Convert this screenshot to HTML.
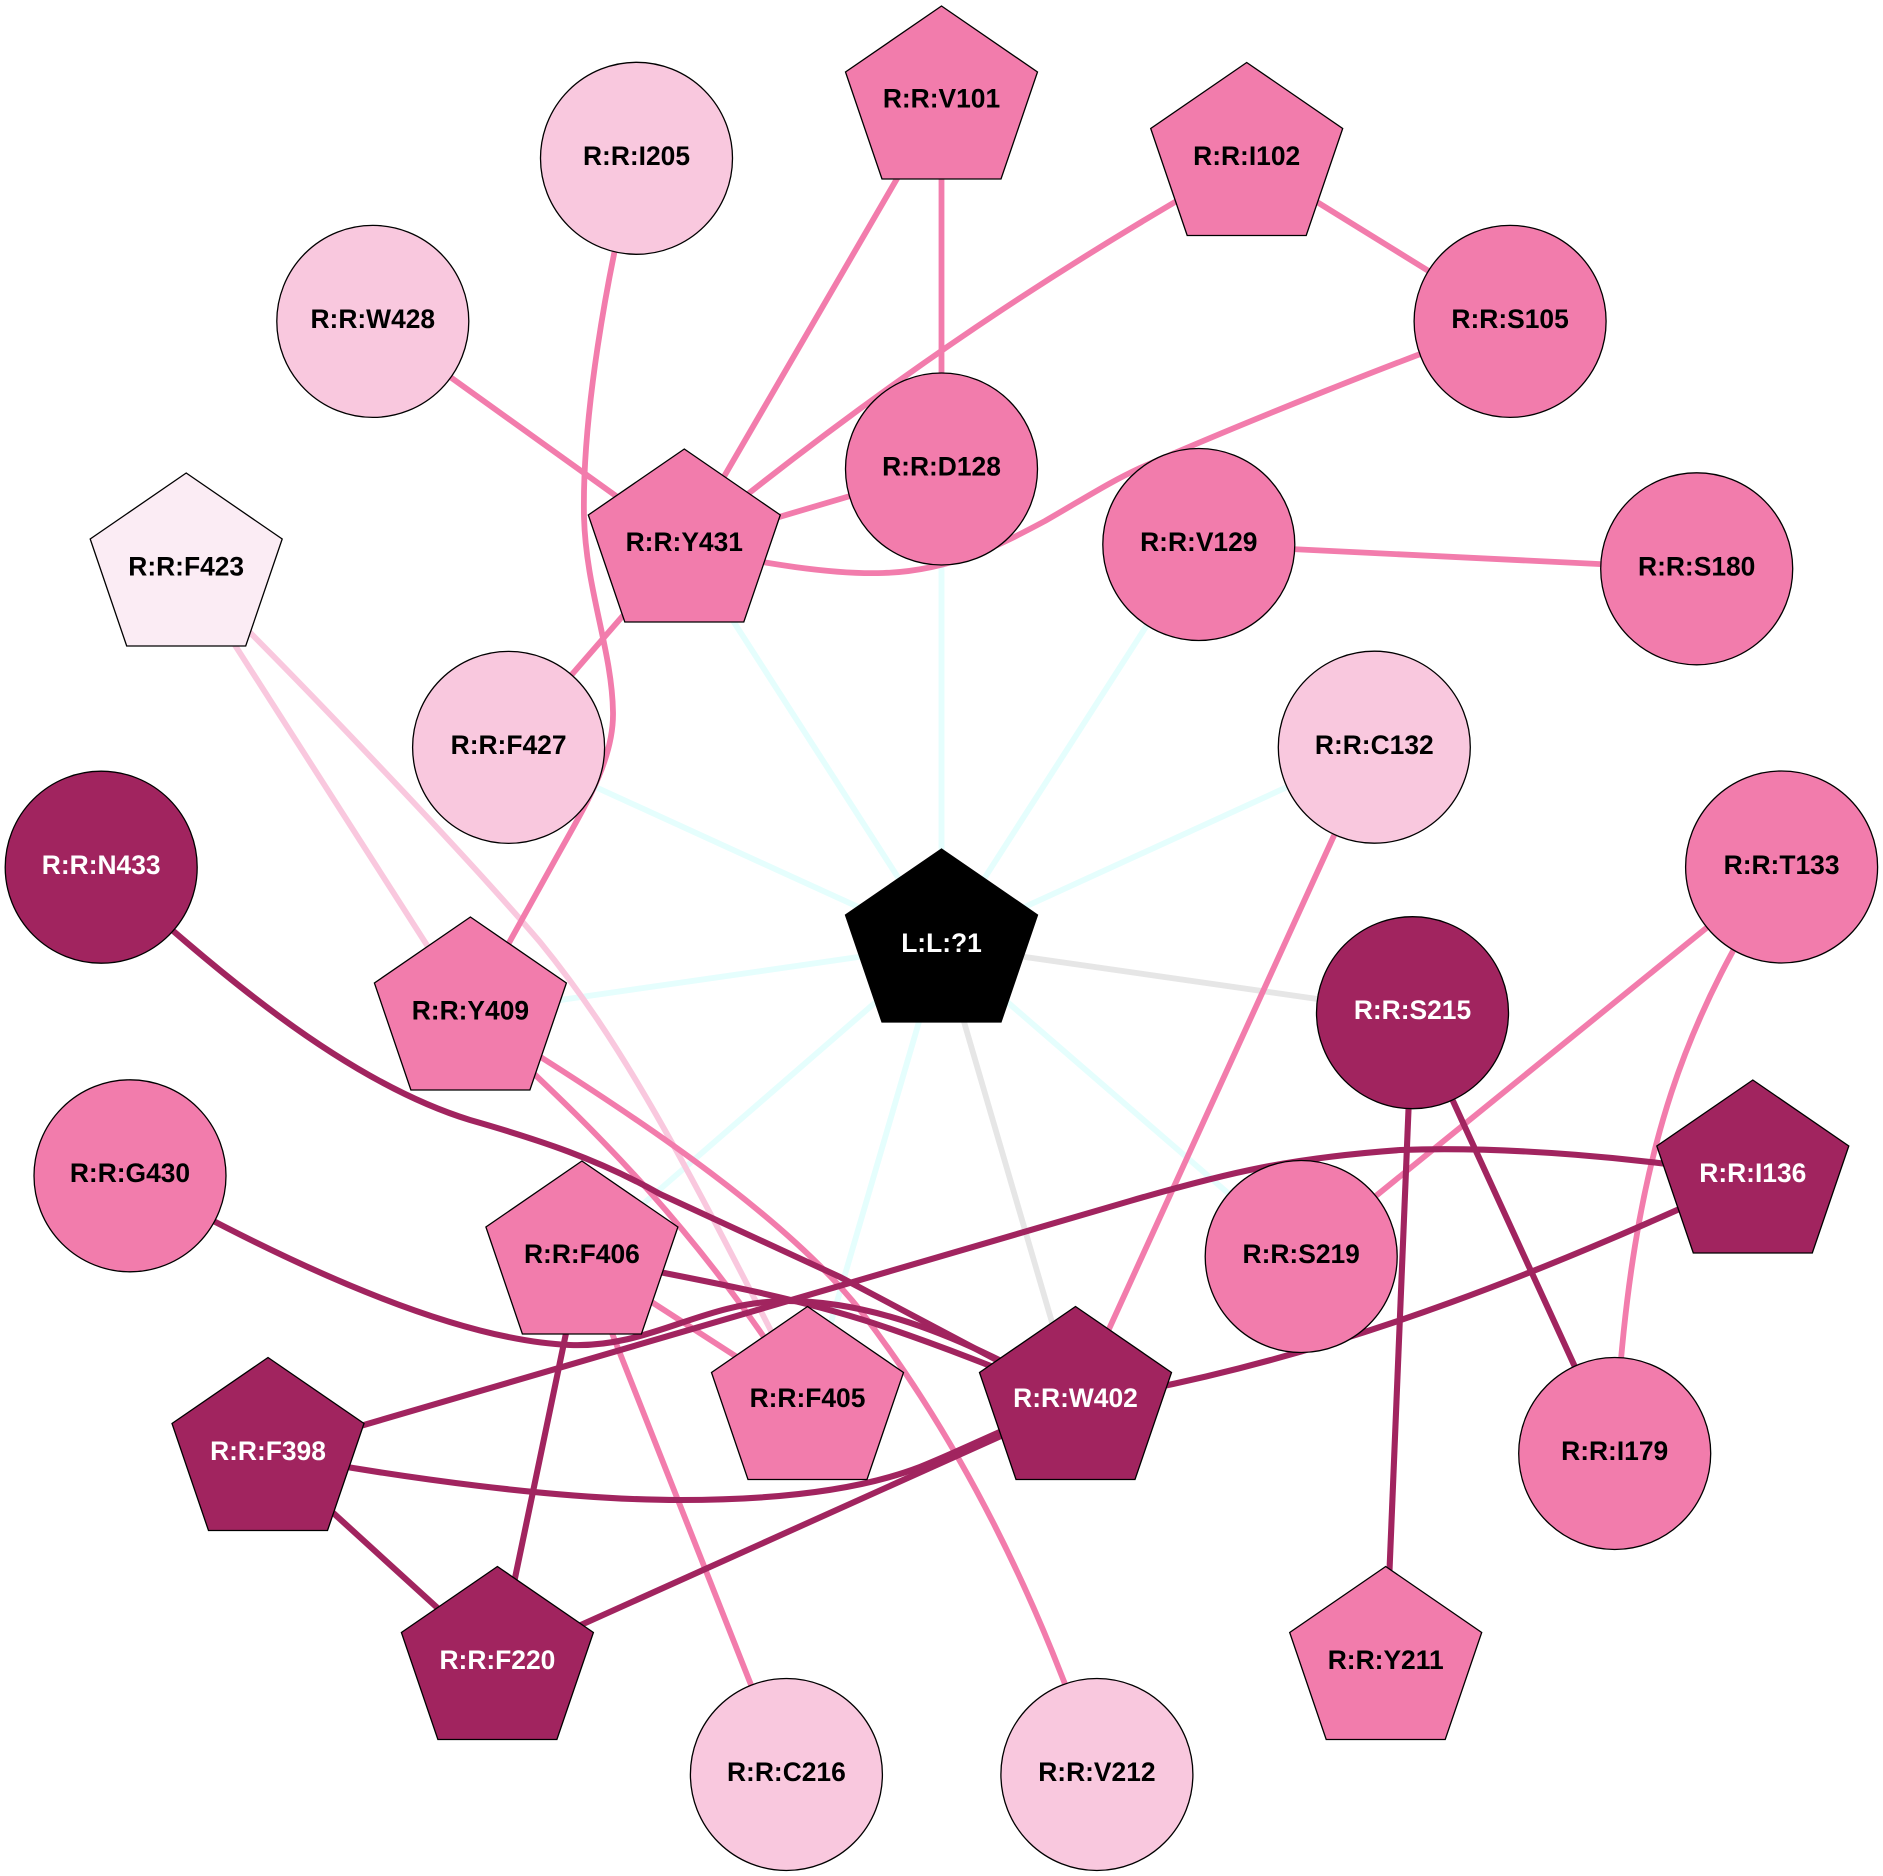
<!DOCTYPE html>
<html><head><meta charset="utf-8"><style>
html,body{margin:0;padding:0;background:#fff}
svg{display:block}
text{font-family:"Liberation Sans",sans-serif;font-weight:bold;font-size:26.4px;text-anchor:middle;fill:#000}
text.w{fill:#fff}
.e path,.e line{fill:none}
.n *{stroke:#000;stroke-width:1.3}
.n text{stroke:none}
</style></head><body>
<svg xmlns="http://www.w3.org/2000/svg" width="1883" height="1876" viewBox="0 0 1883 1876">
<rect width="1883" height="1876" fill="#fff"/>
<g class="e" stroke="#e5fefd" stroke-width="5.8">
<line x1="941.5" y1="945" x2="684.3" y2="545"/>
<line x1="941.5" y1="945" x2="941.5" y2="469"/>
<line x1="941.5" y1="945" x2="1198.8" y2="544.5"/>
<line x1="941.5" y1="945" x2="1374.3" y2="747.2"/>
<line x1="941.5" y1="945" x2="508.6" y2="747.4"/>
<line x1="941.5" y1="945" x2="470.4" y2="1013"/>
<line x1="941.5" y1="945" x2="581.9" y2="1257"/>
<line x1="941.5" y1="945" x2="807.5" y2="1402.5"/>
<line x1="941.5" y1="945" x2="1301.2" y2="1256.5"/>
</g>
<g class="e" stroke="#e6e6e6" stroke-width="5.8">
<line x1="941.5" y1="945" x2="1412.5" y2="1012.7"/>
<line x1="941.5" y1="945" x2="1075.5" y2="1402.5"/>
</g>
<g class="e" stroke="#f9c8de" stroke-width="5.8">
<line x1="186.2" y1="569" x2="470.4" y2="1013"/>
<path d="M186 569C300 680 470 860 540 942C620 1040 680 1150 807 1402"/>
</g>
<g class="e" stroke="#f27cac" stroke-width="5.8">
<line x1="372.8" y1="321.4" x2="684.3" y2="545"/>
<line x1="941.5" y1="102" x2="684.3" y2="545"/>
<line x1="941.5" y1="102" x2="941.5" y2="469"/>
<path d="M1247 160C1100 245 930 345 684 545"/>
<line x1="1246.7" y1="158.5" x2="1510.1" y2="321.4"/>
<line x1="684.3" y1="545" x2="941.5" y2="469"/>
<path d="M684 548C740 558 820 575 883 573C950 571 1000 545 1045 521C1090 495 1110 482 1140 468C1250 420 1400 360 1510 321"/>
<line x1="1198.8" y1="544.5" x2="1696.7" y2="568.8"/>
<line x1="684.3" y1="545" x2="508.6" y2="747.4"/>
<path d="M636 158C605 280 582 420 584 517C586 590 612 650 613 712C614 760 585 806 555 860L470 1013"/>
<path d="M470 1013C560 1100 680 1200 807 1402"/>
<path d="M470 1013C620 1105 780 1210 860 1310C960 1440 1040 1600 1097 1774"/>
<line x1="581.9" y1="1257" x2="807.5" y2="1402.5"/>
<line x1="581.9" y1="1257" x2="786.4" y2="1774.5"/>
<line x1="1374.3" y1="747.2" x2="1075.5" y2="1402.5"/>
<line x1="1781.6" y1="867" x2="1301.2" y2="1256.5"/>
<path d="M1781.6 867C1695 1010 1630 1130 1614.7 1453"/>
</g>
<g class="e" stroke="#a1245f" stroke-width="6.1">
<path d="M101 867C210 965 340 1080 470 1120C540 1140 600 1160 660 1194L840 1277L1076 1402"/>
<path d="M582 1257C700 1280 790 1296 873 1323C930 1342 1010 1372 1076 1402"/>
<path d="M130 1176C280 1260 450 1340 570 1345C650 1348 700 1303 783 1301C880 1300 980 1345 1076 1402"/>
<path d="M1753 1176C1600 1245 1350 1360 1076 1402"/>
<path d="M268 1453L1130 1201C1230 1172 1290 1158 1400 1150C1510 1146 1640 1158 1753 1176"/>
<path d="M268 1453C400 1478 560 1500 680 1500C780 1500 860 1490 920 1467C970 1447 1020 1420 1076 1402"/>
<line x1="497.4" y1="1662.5" x2="1075.5" y2="1402.5"/>
<line x1="268" y1="1453.5" x2="497.4" y2="1662.5"/>
<line x1="581.9" y1="1257" x2="497.4" y2="1662.5"/>
<line x1="1412.5" y1="1012.7" x2="1614.7" y2="1453.5"/>
<line x1="1412.5" y1="1012.7" x2="1385.7" y2="1662.5"/>
</g>
<g class="n">
<circle cx="636.5" cy="158.3" r="96" fill="#f9c8de"/>
<circle cx="372.8" cy="321.4" r="96" fill="#f9c8de"/>
<circle cx="1510.1" cy="321.4" r="96" fill="#f27cac"/>
<circle cx="941.5" cy="469" r="96" fill="#f27cac"/>
<circle cx="1198.8" cy="544.5" r="96" fill="#f27cac"/>
<circle cx="1696.7" cy="568.8" r="96" fill="#f27cac"/>
<circle cx="508.6" cy="747.4" r="96" fill="#f9c8de"/>
<circle cx="1374.3" cy="747.2" r="96" fill="#f9c8de"/>
<circle cx="101.2" cy="867.2" r="96" fill="#a1245f"/>
<circle cx="1781.6" cy="867" r="96" fill="#f27cac"/>
<circle cx="1412.5" cy="1012.7" r="96" fill="#a1245f"/>
<circle cx="130" cy="1175.8" r="96" fill="#f27cac"/>
<circle cx="1301.2" cy="1256.5" r="96" fill="#f27cac"/>
<circle cx="1614.7" cy="1453.5" r="96" fill="#f27cac"/>
<circle cx="786.4" cy="1774.5" r="96" fill="#f9c8de"/>
<circle cx="1096.9" cy="1774.5" r="96" fill="#f9c8de"/>
<polygon fill="#f27cac" points="941.5,6 1037.5,72 1001,179 882,179 845.5,72"/>
<polygon fill="#f27cac" points="1246.7,62.5 1342.7,128.5 1306.2,235.5 1187.2,235.5 1150.7,128.5"/>
<polygon fill="#f27cac" points="684.3,449 780.3,515 743.8,622 624.8,622 588.3,515"/>
<polygon fill="#fbecf4" points="186.2,473 282.2,539 245.7,646 126.7,646 90.2,539"/>
<polygon fill="#f27cac" points="470.4,917 566.4,983 529.9,1090 410.9,1090 374.4,983"/>
<polygon fill="#000" points="941.5,849 1037.5,915 1001,1022 882,1022 845.5,915"/>
<polygon fill="#a1245f" points="1752.8,1080 1848.8,1146 1812.3,1253 1693.3,1253 1656.8,1146"/>
<polygon fill="#f27cac" points="581.9,1161 677.9,1227 641.4,1334 522.4,1334 485.9,1227"/>
<polygon fill="#a1245f" points="1075.5,1306.5 1171.5,1372.5 1135,1479.5 1016,1479.5 979.5,1372.5"/>
<polygon fill="#f27cac" points="807.5,1306.5 903.5,1372.5 867,1479.5 748,1479.5 711.5,1372.5"/>
<polygon fill="#a1245f" points="268,1357.5 364,1423.5 327.5,1530.5 208.5,1530.5 172,1423.5"/>
<polygon fill="#a1245f" points="497.4,1566.5 593.4,1632.5 556.9,1739.5 437.9,1739.5 401.4,1632.5"/>
<polygon fill="#f27cac" points="1385.7,1566.5 1481.7,1632.5 1445.2,1739.5 1326.2,1739.5 1289.7,1632.5"/>
<text x="636.5" y="165">R:R:I205</text>
<text x="372.8" y="328">R:R:W428</text>
<text x="1510.1" y="328">R:R:S105</text>
<text x="941.5" y="475.5">R:R:D128</text>
<text x="1198.8" y="551">R:R:V129</text>
<text x="1696.7" y="575.5">R:R:S180</text>
<text x="508.6" y="754">R:R:F427</text>
<text x="1374.3" y="754">R:R:C132</text>
<text class="w" x="101.2" y="874">R:R:N433</text>
<text x="1781.6" y="874">R:R:T133</text>
<text class="w" x="1412.5" y="1019">R:R:S215</text>
<text x="130" y="1182">R:R:G430</text>
<text x="1301.2" y="1263">R:R:S219</text>
<text x="1614.7" y="1460">R:R:I179</text>
<text x="786.4" y="1781">R:R:C216</text>
<text x="1096.9" y="1781">R:R:V212</text>
<text x="941.5" y="107.5">R:R:V101</text>
<text x="1246.7" y="165">R:R:I102</text>
<text x="684.3" y="551">R:R:Y431</text>
<text x="186.2" y="575.5">R:R:F423</text>
<text x="470.4" y="1019.5">R:R:Y409</text>
<text class="w" x="941.5" y="952">L:L:?1</text>
<text class="w" x="1752.8" y="1182">R:R:I136</text>
<text x="581.9" y="1263">R:R:F406</text>
<text class="w" x="1075.5" y="1407">R:R:W402</text>
<text x="807.5" y="1407">R:R:F405</text>
<text class="w" x="268" y="1460">R:R:F398</text>
<text class="w" x="497.4" y="1669">R:R:F220</text>
<text x="1385.7" y="1669">R:R:Y211</text>
</g>
</svg>
</body></html>
